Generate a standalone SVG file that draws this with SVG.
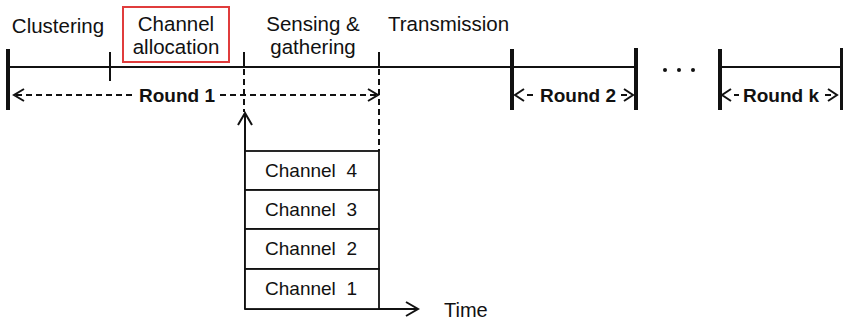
<svg xmlns="http://www.w3.org/2000/svg" width="843" height="322" viewBox="0 0 843 322">
<style>
text{font-family:"Liberation Sans",Arial,sans-serif;fill:#111}
.lbl{font-size:20.5px}
.rnd{font-size:19px;font-weight:bold}
.ch{font-size:19px}
.ln{stroke:#111;stroke-width:2;fill:none}
.bar{stroke:#111;stroke-width:4;fill:none}
.dash{stroke:#111;stroke-width:2;fill:none;stroke-dasharray:6,4}
.cell{fill:#fff;stroke:#111;stroke-width:1.8}
</style>
<rect width="843" height="322" fill="#fff"/>
<g id="labels">
<text class="lbl" x="58" y="33" text-anchor="middle">Clustering</text>
<g id="channel-allocation">
<rect x="123" y="7" width="106" height="55" fill="none" stroke="#e03c3c" stroke-width="2"/>
<text class="lbl" x="176" y="31" text-anchor="middle">Channel</text>
<text class="lbl" x="176" y="54" text-anchor="middle">allocation</text>
</g>
<text class="lbl" x="313" y="31" text-anchor="middle">Sensing &amp;</text>
<text class="lbl" x="313" y="54" text-anchor="middle">gathering</text>
<text class="lbl" x="388" y="31">Transmission</text>
</g>
<g id="timeline">
<line class="ln" x1="8" y1="67" x2="636" y2="67"/>
<line class="ln" x1="720" y1="67" x2="843" y2="67"/>
<line class="bar" x1="8" y1="49" x2="8" y2="110"/>
<line class="ln" x1="110" y1="52" x2="110" y2="81"/>
<line class="ln" x1="244" y1="52" x2="244" y2="67"/>
<line class="ln" x1="379" y1="52" x2="379" y2="67"/>
<line class="bar" x1="512" y1="49" x2="512" y2="110"/>
<line class="bar" x1="636" y1="48" x2="636" y2="110"/>
<line class="bar" x1="720" y1="49" x2="720" y2="110"/>
<line class="bar" x1="842" y1="48" x2="842" y2="110"/>
<circle cx="665" cy="70" r="2" fill="#111"/>
<circle cx="679" cy="70" r="2" fill="#111"/>
<circle cx="693" cy="70" r="2" fill="#111"/>
</g>
<g id="connectors">
<line class="dash" x1="244" y1="69" x2="244" y2="112"/>
<line class="dash" x1="379" y1="69" x2="379" y2="151"/>
<line class="dash" x1="16" y1="95" x2="134" y2="95"/>
<line class="dash" x1="220" y1="95" x2="376" y2="95"/>
<polyline class="ln" points="24,89 14,95 24,101"/>
<polyline class="ln" points="368,89 378,95 368,101"/>
<polyline class="ln" points="524,89 515,95 524,101"/>
<line class="ln" x1="527" y1="95" x2="533" y2="95"/>
<line class="ln" x1="621" y1="95" x2="627" y2="95"/>
<polyline class="ln" points="624,89 633,95 624,101"/>
<polyline class="ln" points="731,89 722,95 731,101"/>
<line class="ln" x1="734" y1="95" x2="739" y2="95"/>
<line class="ln" x1="825" y1="95" x2="831" y2="95"/>
<polyline class="ln" points="828,89 837,95 828,101"/>
<line class="ln" x1="245" y1="114" x2="245" y2="309"/>
<polyline class="ln" points="238,125 245,113 252,125"/>
<line class="ln" x1="245" y1="309" x2="417" y2="309"/>
<polyline class="ln" points="406,302 418,309 406,316"/>
</g>
<g id="round-labels">
<text class="rnd" x="177" y="102" text-anchor="middle">Round 1</text>
<text class="rnd" x="578" y="102" text-anchor="middle">Round 2</text>
<text class="rnd" x="781" y="102" text-anchor="middle">Round k</text>
</g>
<g id="channel4"><rect class="cell" x="245" y="151" width="134" height="39"/><text class="ch" x="311" y="177" text-anchor="middle" xml:space="preserve">Channel  4</text></g>
<g id="channel3"><rect class="cell" x="245" y="190" width="134" height="39"/><text class="ch" x="311" y="216" text-anchor="middle" xml:space="preserve">Channel  3</text></g>
<g id="channel2"><rect class="cell" x="245" y="229" width="134" height="40"/><text class="ch" x="311" y="255" text-anchor="middle" xml:space="preserve">Channel  2</text></g>
<g id="channel1"><rect class="cell" x="245" y="269" width="134" height="40"/><text class="ch" x="311" y="295" text-anchor="middle" xml:space="preserve">Channel  1</text></g>
<text class="ch" x="444" y="317" style="font-size:20px">Time</text>
</svg>
